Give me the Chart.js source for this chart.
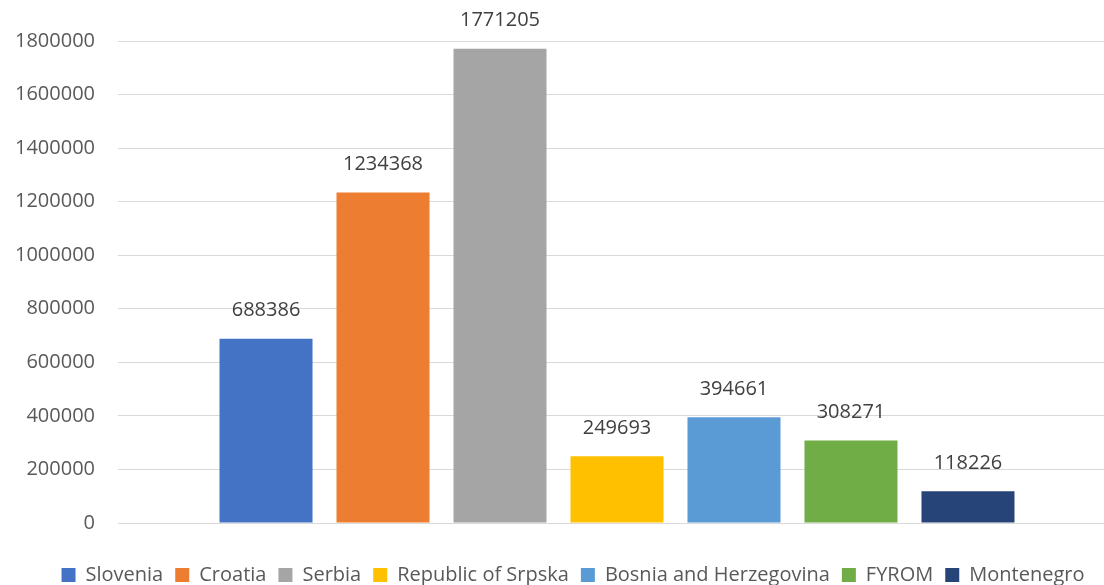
<!DOCTYPE html>
<html>
<head>
<meta charset="utf-8">
<script src="https://cdn.jsdelivr.net/npm/chart.js@4/dist/chart.umd.min.js"></script>
<style>
  html, body { margin: 0; padding: 0; background: #fff; overflow: hidden; }
  #wrap { width: 1116px; height: 585px; }
</style>
</head>
<body>
<div id="wrap"><canvas id="chart" width="1116" height="585"></canvas></div>
<script>
// 数据
const countries = ['Slovenia', 'Croatia', 'Serbia', 'Republic of Srpska', 'Bosnia and Herzegovina', 'FYROM', 'Montenegro'];
const values = [688386, 1234368, 1771205, 249693, 394661, 308271, 118226];
const colors = ['#4472C4', '#ED7D31', '#A5A5A5', '#FFC000', '#5B9BD5', '#70AD47', '#264478'];
const yTicks = [0, 200000, 400000, 600000, 800000, 1000000, 1200000, 1400000, 1600000, 1800000];

const FONT = "'Open Sans', 'Noto Sans', sans-serif";

// 柱顶数值标签
const valueLabels = {
    id: 'valueLabels',
    afterDatasetsDraw(chart) {
        const ctx = chart.ctx;
        ctx.save();
        ctx.font = '20px ' + FONT;
        ctx.fillStyle = '#404040';
        ctx.textAlign = 'center';
        ctx.textBaseline = 'middle';
        chart.data.datasets.forEach((ds, i) => {
            const bar = chart.getDatasetMeta(i).data[0];
            ctx.fillText(String(ds.data[0]), bar.x, bar.y - 28);
        });
        ctx.restore();
    }
};

// 图例高度固定，并稍微右移
const legendTweak = {
    id: 'legendTweak',
    beforeInit(chart) {
        const fit = chart.legend.fit;
        chart.legend.fit = function () {
            fit.call(this);
            this.height = 32;
        };
    },
    afterLayout(chart) {
        chart.legend.left += 15;
        chart.legend.right += 15;
    }
};

const datasets = countries.map((name, i) => ({
    label: name,
    data: [values[i]],
    backgroundColor: colors[i],
    borderWidth: 0,
    categoryPercentage: 0.8206,
    barPercentage: 0.795
}));

new Chart(document.getElementById('chart'), {
    type: 'bar',
    data: { labels: [''], datasets: datasets },
    options: {
        responsive: false,
        animation: false,
        layout: { padding: { top: 41, left: 0, right: 0, bottom: 0 } },
        plugins: {
            legend: {
                position: 'bottom',
                labels: {
                    color: '#595959',
                    font: { family: FONT, size: 20 },
                    boxWidth: 14,
                    boxHeight: 14,
                    padding: 12
                }
            },
            tooltip: { enabled: false }
        },
        scales: {
            x: {
                grid: { display: false },
                border: { display: false },
                ticks: { display: false },
                afterFit(scale) { scale.height = 30; }
            },
            y: {
                min: 0,
                max: 1800000,
                afterBuildTicks(scale) {
                    scale.ticks = yTicks.map(v => ({ value: v }));
                },
                afterFit(scale) { scale.width = 118; },
                border: { display: false },
                grid: { color: '#D9D9D9', lineWidth: 1, drawTicks: false },
                ticks: {
                    color: '#595959',
                    font: { family: FONT, size: 20 },
                    padding: 23,
                    callback: v => String(v)
                }
            }
        }
    },
    plugins: [valueLabels, legendTweak]
});
</script>
</body>
</html>
